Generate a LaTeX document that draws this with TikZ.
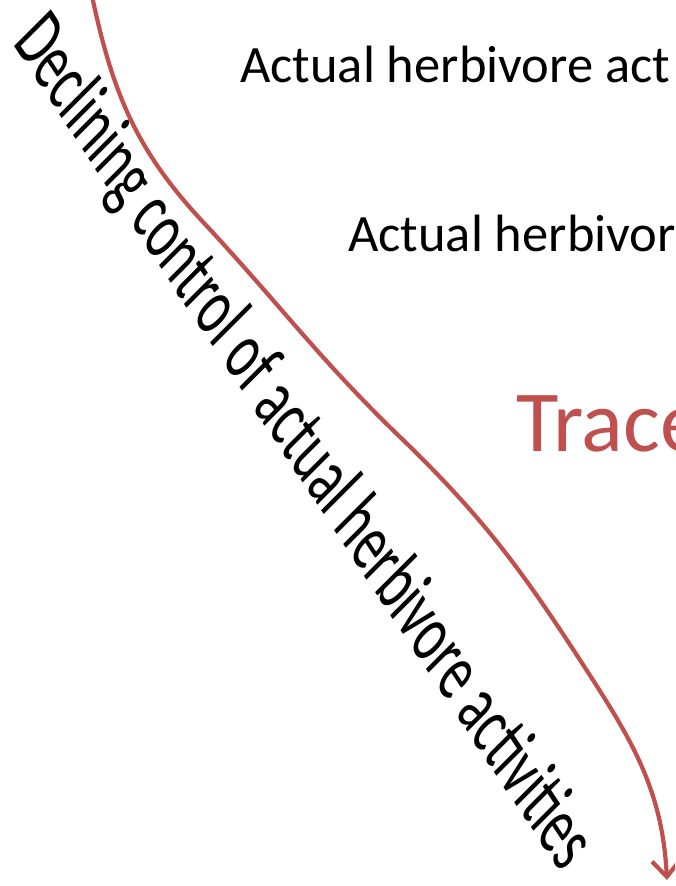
\documentclass[tikz,border=0pt]{standalone}
\usepackage{fontspec}
\setmainfont{Carlito}
\usetikzlibrary{arrows.meta}
\definecolor{slidered}{HTML}{C0504D}
\tikzset{
  lbl/.style={inner sep=0pt, anchor=base west, font=\fontsize{52.5}{60}\selectfont, text=black},
  bigred/.style={inner sep=0pt, anchor=base west, font=\fontsize{87}{100}\selectfont, text=slidered},
  curvearrow/.style={draw=slidered, line width=4.2pt, -{Straight Barb[length=16pt,width=28pt,line width=4.2pt]}},
}
\begin{document}
\begin{tikzpicture}[x=1pt,y=1pt]
\useasboundingbox (0,0) rectangle (675,886);
\clip (0,0) rectangle (675,886);
\fill[white] (0,0) rectangle (675,886);
% horizontal texts
\node[lbl] (t1) at (240,803) {Actual herbivore act};
\node[lbl] (t2) at (348,634) {Actual herbivor};
\node[bigred] (t3) at (516,434) {Trace};
% curve
\coordinate (c0) at (92,890);
\coordinate (c1) at (203,664);
\coordinate (c2) at (400,449);
\coordinate (c3) at (580,226);
\coordinate (c4) at (667,6);
\draw[curvearrow] (c0) to[out=-78,in=133] (c1) to[out=-47,in=136] (c2)
  to[out=-44,in=123] (c3) to[out=-57,in=93] (c4);
% slanted text
\begin{scope}[cm={0.592,-0.895,1.146,1.146,(12,843)}]
\node[inner sep=0pt, anchor=base west, transform shape, font=\fontsize{50}{60}\selectfont] (decl) at (0,0) {Declining control of actual herbivore activities};
\end{scope}
\end{tikzpicture}
\end{document}
